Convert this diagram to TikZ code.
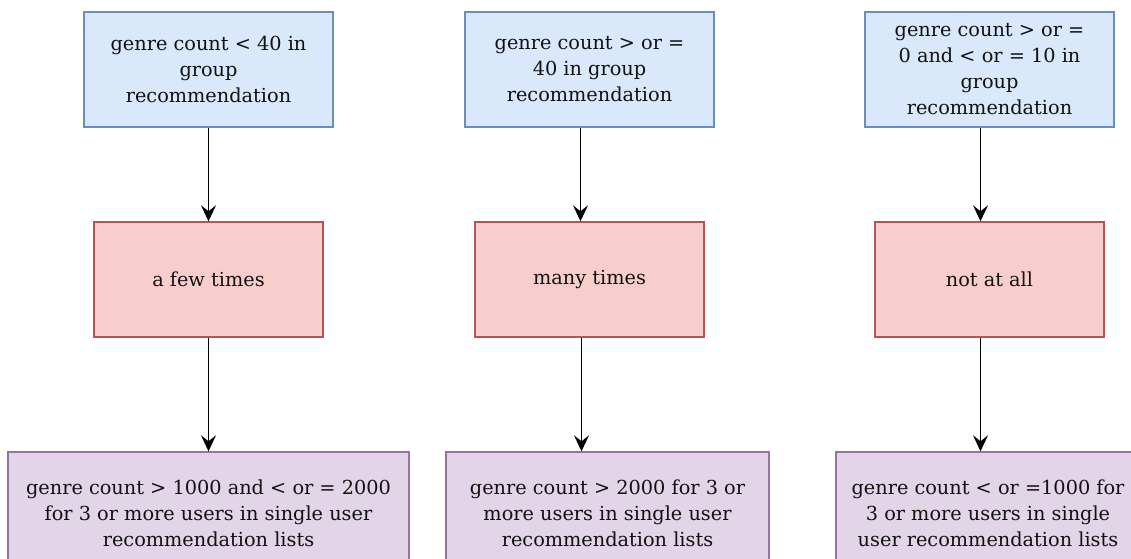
\documentclass[tikz,border=0pt]{standalone}
\usepackage{fontspec}
\setmainfont{DejaVu Serif}
\usetikzlibrary{arrows.meta}
\definecolor{bluefill}{HTML}{DAE8FC}
\definecolor{bluedraw}{HTML}{6C8EBF}
\definecolor{redfill}{HTML}{F8CECC}
\definecolor{reddraw}{HTML}{B85450}
\definecolor{purfill}{HTML}{E1D5E7}
\definecolor{purdraw}{HTML}{9673A6}
\definecolor{txt}{HTML}{111111}
\tikzset{
  box/.style={rectangle, line width=1.4pt, inner sep=0pt, align=center, text=txt,
    font=\fontsize{19.3}{26}\selectfont},
  bluebox/.style={box, fill=bluefill, draw=bluedraw, minimum width=249pt, minimum height=115pt},
  redbox/.style={box, fill=redfill, draw=reddraw, minimum width=229pt, minimum height=115pt},
  purbox/.style={box, fill=purfill, draw=purdraw, minimum height=122pt},
  conn/.style={line width=1.8pt, black, -{Stealth[length=16pt,width=15pt,inset=6pt]}}
}
\begin{document}
\begin{tikzpicture}[x=1pt,y=-1pt]
\useasboundingbox (0,0) rectangle (1131,558);
\clip (0,0) rectangle (1131,558);
\node[bluebox] (t1) at (208.5,69.5) {genre count < 40 in\\group\\recommendation};
\node[bluebox] (t2) at (589.5,69.5) {genre count > or =\\40 in group\\recommendation};
\node[bluebox] (t3) at (989.5,69.5) {genre count > or =\\0 and < or = 10 in\\group\\recommendation};
\node[redbox] (m1) at (208.5,279.5) {a few times};
\node[redbox] (m2) at (589.5,279.5) {many times};
\node[redbox] (m3) at (989.5,279.5) {not at all};
\node[purbox, minimum width=401pt] (b1) at (208.5,513) {genre count > 1000 and < or = 2000\\for 3 or more users in single user\\recommendation lists};
\node[purbox, minimum width=323pt] (b2) at (607.5,513) {genre count > 2000 for 3 or\\more users in single user\\recommendation lists};
\node[purbox, minimum width=304pt] (b3) at (988,513) {genre count < or =1000 for\\3 or more users in single\\user recommendation lists};
\draw[conn] (t1.south) -- (m1.north);
\draw[conn] ([xshift=-9pt]t2.south) -- ([xshift=-9pt]m2.north);
\draw[conn] ([xshift=-9pt]t3.south) -- ([xshift=-9pt]m3.north);
\draw[conn] (m1.south) -- (b1.north);
\draw[conn] ([xshift=-8pt]m2.south) -- ([xshift=-26pt]b2.north);
\draw[conn] ([xshift=-9pt]m3.south) -- ([xshift=-7.5pt]b3.north);
\end{tikzpicture}
\end{document}
